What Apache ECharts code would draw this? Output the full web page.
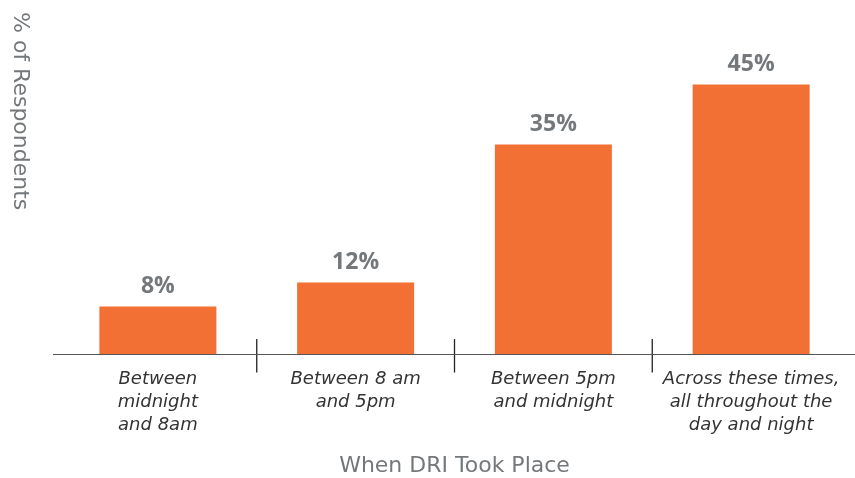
<!DOCTYPE html>
<html>
<head>
<meta charset="utf-8">
<script src="https://cdn.jsdelivr.net/npm/echarts@6/dist/echarts.min.js"></script>
<style>
  html, body { margin: 0; padding: 0; background: #fff; }
  #chart { width: 855px; height: 478px; }
</style>
</head>
<body>
<div id="chart"></div>
<script>
// data
const categories = [
  'Between\nmidnight\nand 8am',
  'Between 8 am\nand 5pm',
  'Between 5pm\nand midnight',
  'Across these times,\nall throughout the\nday and night'
];
const shares = [8, 12, 35, 45];

const orange = '#F37035';
const grey = '#75787B';

const chart = echarts.init(document.getElementById('chart'), null, { renderer: 'canvas' });

chart.setOption({
  animation: false,
  grid: { left: 59, right: 5, top: 54.5, bottom: 123.5, outerBoundsMode: 'none' },
  xAxis: {
    type: 'category',
    data: categories,
    axisLine: { show: false },
    axisTick: { show: false },
    axisLabel: {
      interval: 0,
      margin: 13,
      fontFamily: 'DejaVu Sans',
      fontStyle: 'italic',
      fontSize: 18,
      lineHeight: 23,
      color: '#333'
    },
    name: 'When DRI Took Place',
    nameLocation: 'middle',
    nameGap: 101,
    nameTextStyle: { fontFamily: 'DejaVu Sans', fontSize: 22, color: grey }
  },
  yAxis: {
    type: 'value',
    min: 0,
    max: 50,
    show: false
  },
  series: [
    {
      type: 'bar',
      data: shares,
      barWidth: 117,
      itemStyle: { color: orange },
      label: {
        show: true,
        position: 'top',
        distance: 9,
        formatter: '{c}%',
        fontFamily: 'Open Sans',
        fontWeight: 'bold',
        fontSize: 23,
        color: grey
      }
    },
    {
      // tick marks between the categories
      type: 'custom',
      silent: true,
      data: categories.slice(1).map((c, i) => [i + 1, 0]),
      renderItem: function (params, api) {
        const p = api.coord([api.value(0), 0]);
        const band = api.size([1, 0])[0];
        const x = p[0] - band / 2;
        return {
          type: 'line',
          shape: { x1: x, y1: p[1] - 15.5, x2: x, y2: p[1] + 18 },
          style: { stroke: '#222', lineWidth: 1.3 }
        };
      }
    }
  ]
});

// baseline runs a bit past the plot on both sides
const y0 = chart.convertToPixel({ yAxisIndex: 0 }, 0);
chart.setOption({
  graphic: [
    {
      type: 'line',
      shape: { x1: 53, y1: y0, x2: 855, y2: y0 },
      style: { stroke: '#555', lineWidth: 1.2 },
      z: 10
    },
    {
      type: 'text',
      x: 20,
      y: 12,
      rotation: -Math.PI / 2,
      style: {
        text: '% of Respondents',
        fontFamily: 'DejaVu Sans',
        fontSize: 22,
        fill: grey,
        align: 'left',
        verticalAlign: 'middle'
      }
    }
  ]
});
</script>
</body>
</html>
